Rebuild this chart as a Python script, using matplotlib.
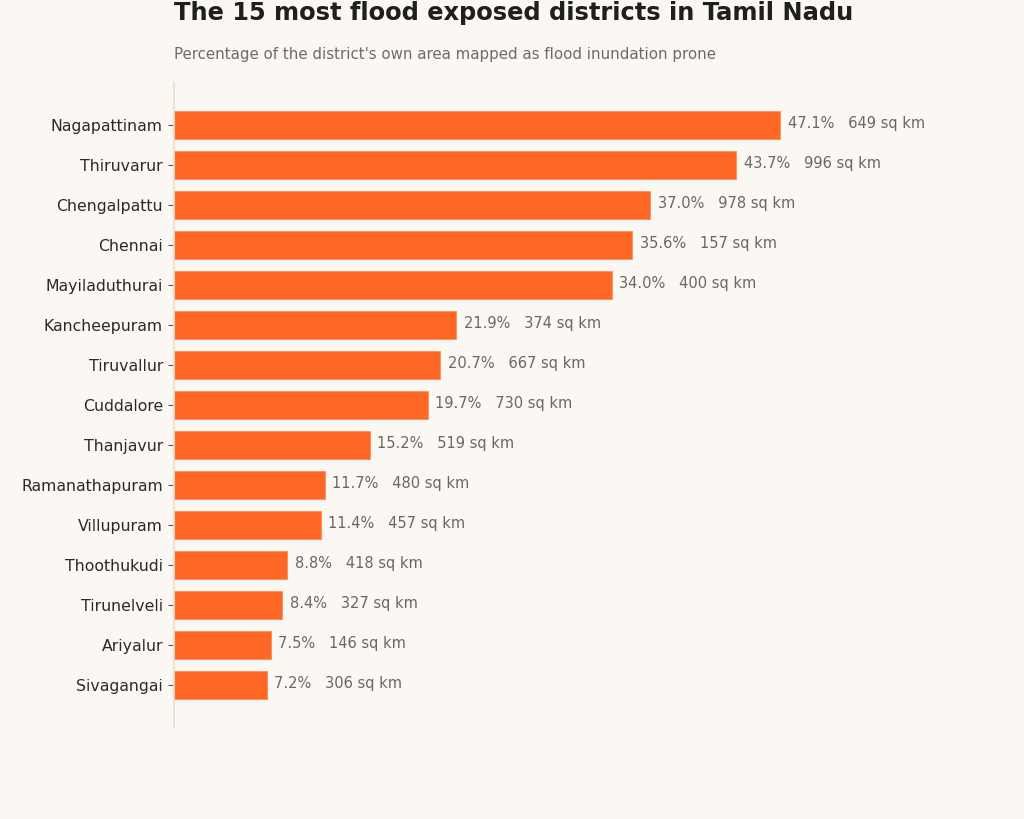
import matplotlib
matplotlib.use("Agg")
import matplotlib.pyplot as plt

plt.rcParams["font.family"] = ["DejaVu Sans"]

districts = ["Nagapattinam", "Thiruvarur", "Chengalpattu", "Chennai", "Mayiladuthurai",
             "Kancheepuram", "Tiruvallur", "Cuddalore", "Thanjavur", "Ramanathapuram",
             "Villupuram", "Thoothukudi", "Tirunelveli", "Ariyalur", "Sivagangai"]
pct = [47.1, 43.7, 37.0, 35.6, 34.0, 21.9, 20.7, 19.7, 15.2, 11.7, 11.4, 8.8, 8.4, 7.5, 7.2]
area_sqkm = [649, 996, 978, 157, 400, 374, 667, 730, 519, 480, 457, 418, 327, 146, 306]

bg = "#FBF8F3"
bar_color = "#FF6726"

fig = plt.figure(figsize=(10.24, 8.19), dpi=100, facecolor=bg)
ax = fig.add_axes([174/1024, 1 - 728/819, (962-174)/1024, (728-82)/819])
ax.set_facecolor(bg)

y = list(range(len(districts)))
ax.barh(y, pct, height=0.68, color=bar_color, edgecolor="#FF8A55", linewidth=0.6)
ax.set_yticks(y)
ax.set_yticklabels(districts, fontsize=11.3, color="#2a2a2a")
ax.invert_yaxis()
ax.set_xlim(0, max(pct) * 1.3)

for yi, p, a in zip(y, pct, area_sqkm):
    ax.text(p + 0.6, yi - 0.03, f"{p:.1f}%   {a} sq km", va="center", ha="left",
            fontsize=10.5, color="#6b6661")

for s in ["top", "right", "bottom"]:
    ax.spines[s].set_visible(False)
ax.spines["left"].set_color("#E8DDD2")
ax.spines["left"].set_linewidth(1.2)
ax.set_xticks([])
ax.tick_params(axis="y", length=4, color="#555555", pad=4)

fig.text(174/1024, 1 - 13/819, "The 15 most flood exposed districts in Tamil Nadu",
         fontsize=17.35, fontweight="bold", color="#1f1f1f", va="center", ha="left")
fig.text(174/1024, 1 - 55/819, "Percentage of the district's own area mapped as flood inundation prone",
         fontsize=10.85, color="#6b6b6b", va="center", ha="left")

fig.savefig("out.png", dpi=100, facecolor=bg)
